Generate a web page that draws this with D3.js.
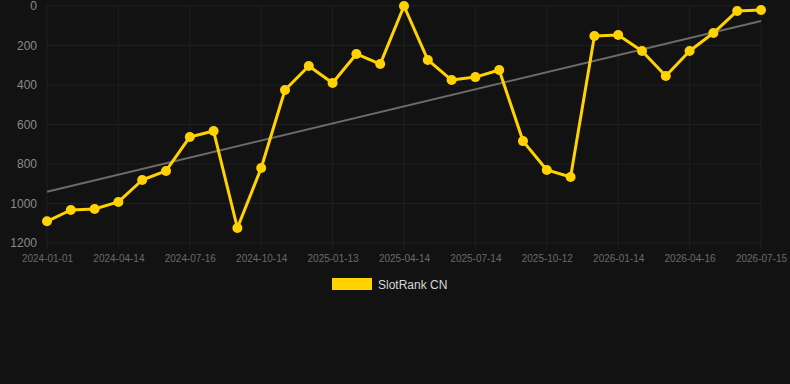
<!DOCTYPE html>
<html>
<head>
<meta charset="utf-8">
<script src="https://cdn.jsdelivr.net/npm/d3@7"></script>
<style>
  html, body { margin: 0; padding: 0; background: #121212; }
  svg { display: block; font-family: "Liberation Sans", Arial, sans-serif; }
</style>
</head>
<body>
<div id="chart"></div>
<script>
// Monthly rank values, Jan 2024 .. Jul 2026
const ranks = [1090, 1033, 1028, 992, 881, 835, 663, 633, 1124, 820, 425, 304, 390, 243, 294, 0,
  273, 375, 360, 324, 684, 830, 866, 152, 147, 228, 354, 228, 137, 25, 20];
// Tick labels, one every third point
const tickLabels = ["2024-01-01", "2024-04-14", "2024-07-16", "2024-10-14", "2025-01-13", "2025-04-14",
  "2025-07-14", "2025-10-12", "2026-01-14", "2026-04-16", "2026-07-15"];
const yTicks = [0, 200, 400, 600, 800, 1000, 1200];
const seriesName = "SlotRank CN";

const width = 790, height = 384;
const gold = "#FFD200";

const svg = d3.select("#chart").append("svg")
    .attr("width", width)
    .attr("height", height);

svg.append("rect").attr("width", width).attr("height", height).attr("fill", "#121212");

const x = d3.scaleLinear().domain([0, ranks.length - 1]).range([47, 761]);
const y = d3.scaleLinear().domain([0, 1200]).range([6, 243]);

// grid
svg.append("g")
  .selectAll("line")
  .data(yTicks)
  .join("line")
  .attr("x1", 47).attr("x2", 761)
  .attr("y1", d => y(d)).attr("y2", d => y(d))
  .attr("stroke", "#1f1f1f").attr("stroke-width", 1);

const tickIdx = tickLabels.map((_, i) => i * 3);
svg.append("g")
  .selectAll("line")
  .data(tickIdx)
  .join("line")
  .attr("x1", d => x(d)).attr("x2", d => x(d))
  .attr("y1", y(0)).attr("y2", y(1200) + 6)
  .attr("stroke", "#1f1f1f").attr("stroke-width", 1);

// y axis
const yAxis = svg.append("g")
  .attr("transform", "translate(37,0)")
  .call(d3.axisLeft(y).tickValues(yTicks).tickFormat(d3.format("d")).tickSize(0).tickPadding(0));
yAxis.select(".domain").remove();
yAxis.selectAll("text").attr("fill", "#8a8a8a").attr("font-size", 12)
  .attr("font-family", "Liberation Sans, Arial, sans-serif");

// x axis
const xAxis = svg.append("g")
  .attr("transform", `translate(0,${y(1200)})`)
  .call(d3.axisBottom(x).tickValues(tickIdx).tickFormat((d, i) => tickLabels[i]).tickSize(0).tickPadding(12));
xAxis.select(".domain").remove();
xAxis.selectAll("text").attr("fill", "#6a6a6a").attr("font-size", 10)
  .attr("font-family", "Liberation Sans, Arial, sans-serif");

// trend line (least squares)
const n = ranks.length;
const mx = d3.mean(ranks, (_, i) => i);
const my = d3.mean(ranks);
const slope = d3.sum(ranks, (v, i) => (i - mx) * (v - my)) / d3.sum(ranks, (_, i) => (i - mx) ** 2);
const icpt = my - slope * mx;
svg.append("line")
  .attr("x1", x(0)).attr("y1", y(icpt))
  .attr("x2", x(n - 1)).attr("y2", y(icpt + slope * (n - 1)))
  .attr("stroke", "#6b6b6b").attr("stroke-width", 2);

// series
svg.append("path")
  .datum(ranks)
  .attr("fill", "none")
  .attr("stroke", gold)
  .attr("stroke-width", 3)
  .attr("stroke-linejoin", "round")
  .attr("d", d3.line().x((d, i) => x(i)).y(d => y(d)));

svg.append("g")
  .selectAll("circle")
  .data(ranks)
  .join("circle")
  .attr("cx", (d, i) => x(i))
  .attr("cy", d => y(d))
  .attr("r", 5)
  .attr("fill", gold);

// legend
svg.append("rect").attr("x", 332).attr("y", 278).attr("width", 40).attr("height", 12).attr("fill", gold);
svg.append("text").attr("x", 378).attr("y", 288.5)
  .attr("fill", "#d8d8d8").attr("font-size", 12)
  .text(seriesName);
</script>
</body>
</html>
